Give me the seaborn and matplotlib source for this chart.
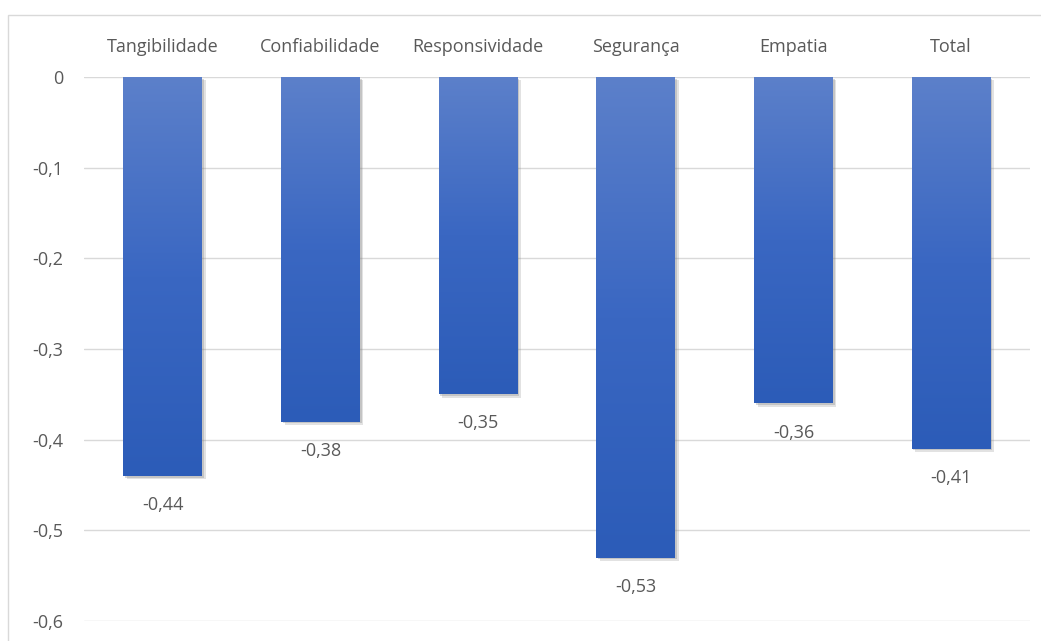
import numpy as np
import pandas as pd
import matplotlib
matplotlib.use("Agg")
import matplotlib.pyplot as plt
import matplotlib.patheffects as pe
from matplotlib.colors import LinearSegmentedColormap
from matplotlib.patches import Rectangle
import seaborn as sns

# data
categories = ["Tangibilidade", "Confiabilidade", "Responsividade", "Segurança", "Empatia", "Total"]
values = [-0.44, -0.38, -0.35, -0.53, -0.36, -0.41]
yticks = [0, -0.1, -0.2, -0.3, -0.4, -0.5, -0.6]

df = pd.DataFrame({"dimensao": categories, "valor": values})

sns.set_theme(style="white")
plt.rcParams["font.family"] = ["Open Sans", "DejaVu Sans"]
text_color = "#595959"
grid_color = "#D9D9D9"
fsize = 13

fig = plt.figure(figsize=(10.41, 6.41), dpi=100)
ax = fig.add_axes([84 / 1041, 1 - 621 / 641, (1030 - 84) / 1041, (621 - 77) / 641])

sns.barplot(data=df, x="dimensao", y="valor", color="#4472C4", width=0.5,
            linewidth=0, edgecolor="none", ax=ax, zorder=2)

# gradient fill for each bar, with a soft drop shadow
cmap = LinearSegmentedColormap.from_list("grad", ["#2C5CB8", "#3A67C2", "#5C80CA"])
grad = np.linspace(0, 1, 256).reshape(-1, 1)
for bar in ax.patches:
    bar.set_path_effects([pe.SimplePatchShadow(offset=(2.5, -2.5), shadow_rgbFace="#8c8c8c", alpha=0.25),
                          pe.SimplePatchShadow(offset=(1.2, -1.2), shadow_rgbFace="#7f7f7f", alpha=0.3),
                          pe.Normal()])
    x0, y0 = bar.get_x(), bar.get_y()
    w, h = bar.get_width(), bar.get_height()
    ylo, yhi = min(y0, y0 + h), max(y0, y0 + h)
    im = ax.imshow(grad, cmap=cmap, aspect="auto", origin="lower",
                   extent=(x0, x0 + w, ylo, yhi), zorder=3)
    im.set_clip_path(bar)

ax.set_xlim(-0.5, len(categories) - 0.5)
ax.set_ylim(-0.6, 0)
ax.set_yticks(yticks)
ax.set_yticklabels([("%g" % t).replace(".", ",") if t != 0 else "0" for t in yticks])
ax.yaxis.grid(True, color=grid_color, linewidth=1.0, zorder=0)
ax.set_axisbelow(True)

ax.xaxis.tick_top()
ax.tick_params(axis="x", length=0, pad=15, labelsize=fsize, labelcolor=text_color)
ax.tick_params(axis="y", length=0, pad=15, labelsize=fsize, labelcolor=text_color)
ax.set_xlabel("")
ax.set_ylabel("")
for s in ax.spines.values():
    s.set_visible(False)

# data labels
for i, v in enumerate(values):
    ax.annotate(("%.2f" % v).replace(".", ","), (i, v), xytext=(0, -21),
                textcoords="offset points", ha="center", va="center",
                fontsize=fsize, color=text_color)

# outer chart border
fig.patches.append(Rectangle((8 / 1041, -0.02), 1.05, 1 - 14.5 / 641 + 0.02,
                             transform=fig.transFigure, fill=False,
                             edgecolor=grid_color, linewidth=1.0))

fig.savefig("out.png", dpi=100)
